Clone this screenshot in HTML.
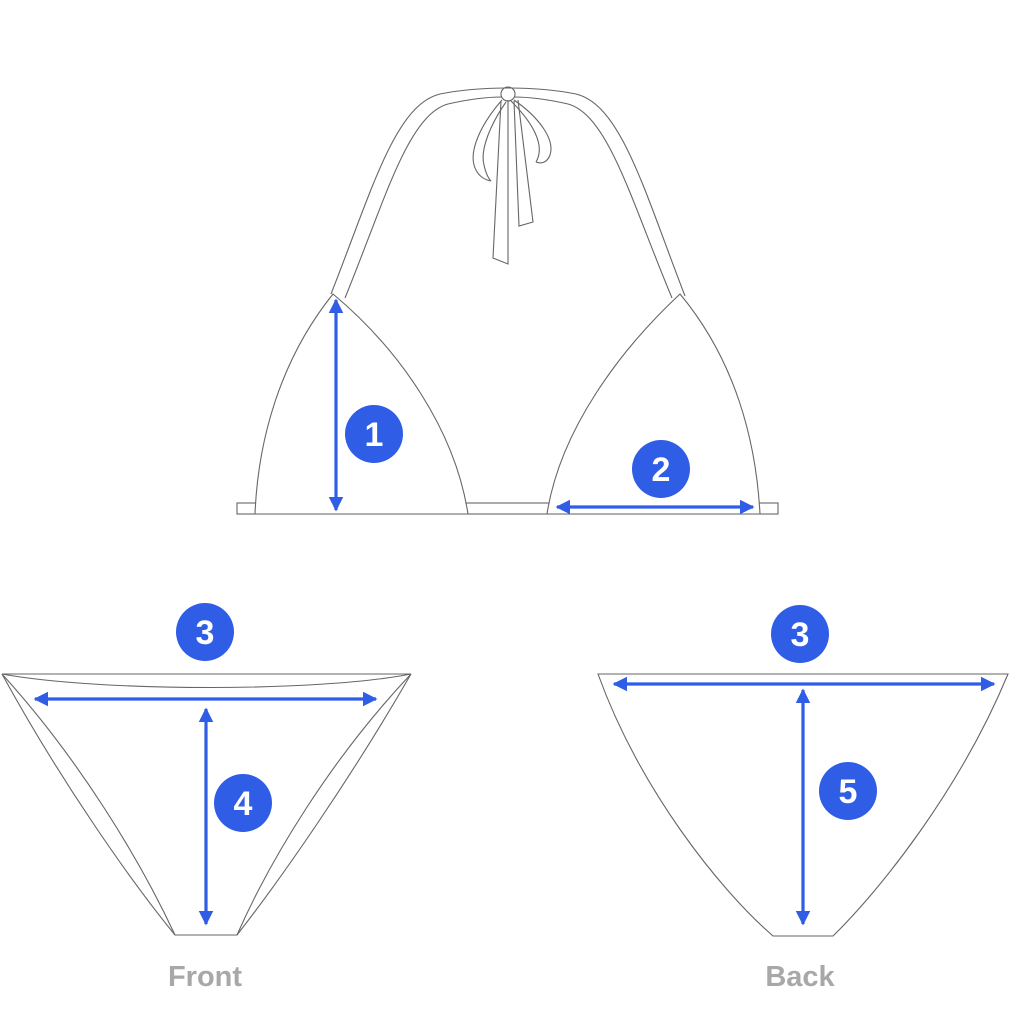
<!DOCTYPE html>
<html><head><meta charset="utf-8"><style>
html,body{margin:0;padding:0;background:#fff;width:1024px;height:1024px;overflow:hidden}
svg{display:block}
</style></head><body>
<svg width="1024" height="1024" viewBox="0 0 1024 1024" xmlns="http://www.w3.org/2000/svg">
<defs>
<marker id="a" viewBox="0 0 10 10" refX="9" refY="5" markerWidth="4.6" markerHeight="4.6" orient="auto-start-reverse"><path d="M0,0 L10,5 L0,10 z" fill="#2f5de6"/></marker>
</defs>
<g fill="none" stroke="#666" stroke-width="1.1">
<!-- straps -->
<path d="M331,294 C372,190 395,105 440,94 C465,89 490,88 508,88"/>
<path d="M345,298 C385,200 408,115 448,104 C470,99 490,97 502,97"/>
<path d="M685,296 C644,190 621,105 576,94 C551,89 526,88 508,88"/>
<path d="M672,298 C631,200 608,115 568,104 C546,99 526,97 514,97"/>
<!-- bow -->
<circle cx="508" cy="94" r="7"/>
<path d="M502,100 C480,125 470,150 474,165 C477,176 485,180 491,181"/>
<path d="M506,102 C490,125 480,150 484,165 C486,174 489,179 491,181"/>
<path d="M514,100 C540,118 555,140 550,155 C547,163 541,164 536,162"/>
<path d="M511,101 C532,122 546,145 536,162"/>
<path d="M501,101 L493,258 L508,264 L508,100"/>
<path d="M514,101 L519,226 L533,222 L518,100"/>
<!-- band -->
<rect x="237" y="503" width="541" height="11"/>
<!-- cups -->
<path d="M333,294 C280,360 258,440 255,514 L468,514 C455,430 400,350 333,294 Z" fill="#fff"/>
<path d="M680,294 C620,350 560,430 547,514 L760,514 C756,440 735,360 680,294 Z" fill="#fff"/>
<!-- front bottom -->
<path d="M2,674 L411,674"/>
<path d="M2,674 C100,692 320,692 411,674"/>
<path d="M2,674 C60,780 130,880 175,935 L237,935 C280,880 350,780 411,674"/>
<path d="M2,674 C80,760 140,860 175,935"/>
<path d="M411,674 C330,760 270,860 237,935"/>
<!-- back bottom -->
<path d="M598,674 L1008,674 C960,790 880,890 833,936 L773,936 C720,890 640,790 598,674 Z"/>
</g>
<g stroke="#2f5de6" stroke-width="3.2" fill="none">
<line x1="336" y1="300" x2="336" y2="510" marker-start="url(#a)" marker-end="url(#a)"/>
<line x1="557" y1="507" x2="753" y2="507" marker-start="url(#a)" marker-end="url(#a)"/>
<line x1="35" y1="699" x2="376" y2="699" marker-start="url(#a)" marker-end="url(#a)"/>
<line x1="206" y1="709" x2="206" y2="924" marker-start="url(#a)" marker-end="url(#a)"/>
<line x1="614" y1="684" x2="994" y2="684" marker-start="url(#a)" marker-end="url(#a)"/>
<line x1="803" y1="690" x2="803" y2="924" marker-start="url(#a)" marker-end="url(#a)"/>
</g>
<g fill="#2f5de6">
<circle cx="374" cy="434" r="29"/>
<circle cx="661" cy="469" r="29"/>
<circle cx="205" cy="632" r="29"/>
<circle cx="800" cy="634" r="29"/>
<circle cx="243" cy="803" r="29"/>
<circle cx="848" cy="791" r="29"/>
</g>
<g fill="#fff" font-family="Liberation Sans, sans-serif" font-weight="bold" font-size="34" text-anchor="middle">
<text x="374" y="446">1</text>
<text x="661" y="481">2</text>
<text x="205" y="644">3</text>
<text x="800" y="646">3</text>
<text x="243" y="815">4</text>
<text x="848" y="803">5</text>
</g>
<g fill="#a8a8a8" font-family="Liberation Sans, sans-serif" font-weight="bold" font-size="29" text-anchor="middle">
<text x="205" y="986">Front</text>
<text x="800" y="986">Back</text>
</g>
</svg>
</body></html>
